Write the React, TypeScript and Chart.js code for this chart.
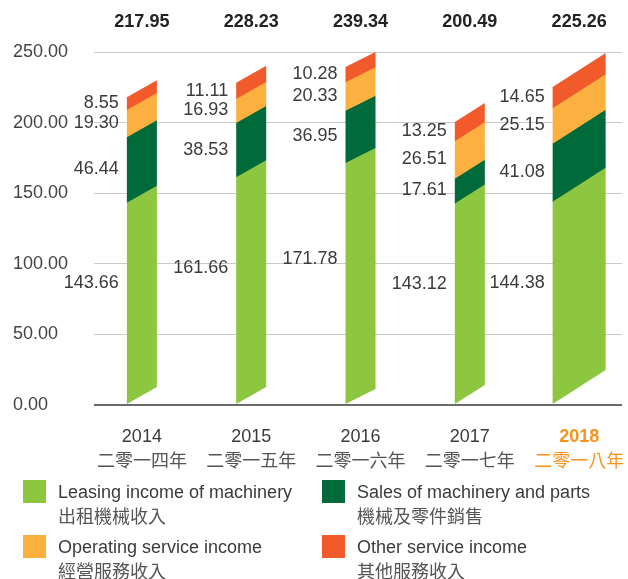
import React, { useEffect, useRef } from 'react';
import { Chart, registerables } from 'chart.js';

Chart.register(...registerables);

// ---------- data ----------
const categories = ['2014', '2015', '2016', '2017', '2018'];
const chineseLabels = ['二零一四年', '二零一五年', '二零一六年', '二零一七年', '二零一八年'];
const highlightIndex = 4;

const leasing = [143.66, 161.66, 171.78, 143.12, 144.38];
const sales = [46.44, 38.53, 36.95, 17.61, 41.08];
const operating = [19.3, 16.93, 20.33, 26.51, 25.15];
const other = [8.55, 11.11, 10.28, 13.25, 14.65];
const totals = [217.95, 228.23, 239.34, 200.49, 225.26];

const seriesNames = [
  'Leasing income of machinery',
  'Sales of machinery and parts',
  'Operating service income',
  'Other service income',
];
const seriesNamesZh = ['出租機械收入', '機械及零件銷售', '經營服務收入', '其他服務收入'];

const yMin = 0;
const yMax = 250;
const yStep = 50;

// ---------- styles ----------
const seriesColors = ['#8dc63f', '#006a3a', '#fbb040', '#f15a2b'];
const barWidths = [30, 30, 30, 30, 53];
const barSkews = [17, 17, 15, 19, 34];
const labelAnchor = [0.6, 0.5, 0.5, 0.5];
const FONT = '"Liberation Sans", "Noto Sans CJK TC", Arial, sans-serif';
const CJK_FONT = '"Noto Sans CJK TC", "Liberation Sans", sans-serif';
const TEXT = '#3b3b3b';
const ORANGE = '#f7941d';

const allSeries = [leasing, sales, operating, other];

const slantBars = {
  id: 'slantBars',
  afterDatasetsDraw(chart: any) {
    const ctx = chart.ctx;
    ctx.save();
    chart.data.datasets.forEach((_ds: any, di: number) => {
      const meta = chart.getDatasetMeta(di);
      meta.data.forEach((el: any, i: number) => {
        const { x, y, base } = el.getProps(['x', 'y', 'base'], true);
        const w = barWidths[i];
        const s = barSkews[i];
        const L = x - w / 2;
        const R = x + w / 2;
        const b = di > 0 ? base + 0.6 : base;
        ctx.beginPath();
        ctx.moveTo(L, b);
        ctx.lineTo(L, y);
        ctx.lineTo(R, y - s);
        ctx.lineTo(R, b - s);
        ctx.closePath();
        ctx.fillStyle = seriesColors[di];
        ctx.fill();
      });
    });
    ctx.restore();
  },
  afterDraw(chart: any) {
    const ctx = chart.ctx;
    const xs = chart.scales.x;
    const ys = chart.scales.y;
    const area = chart.chartArea;
    ctx.save();
    // segment labels
    ctx.font = `18px ${FONT}`;
    ctx.fillStyle = TEXT;
    ctx.textAlign = 'right';
    ctx.textBaseline = 'middle';
    categories.forEach((_c, i) => {
      const cx = xs.getPixelForValue(i);
      const left = cx - barWidths[i] / 2;
      let acc = 0;
      allSeries.forEach((ser, si) => {
        const v = ser[i];
        const py = ys.getPixelForValue(acc + v * labelAnchor[si]);
        ctx.fillText(v.toFixed(2), left - 8, py);
        acc += v;
      });
    });
    // totals
    ctx.font = `bold 18px ${FONT}`;
    ctx.fillStyle = '#222222';
    ctx.textAlign = 'center';
    totals.forEach((t, i) => {
      ctx.fillText(t.toFixed(2), xs.getPixelForValue(i), 22);
    });
    // x labels
    categories.forEach((c, i) => {
      const cx = xs.getPixelForValue(i);
      const hi = i === highlightIndex;
      ctx.font = `${hi ? 'bold ' : ''}18px ${FONT}`;
      ctx.fillStyle = hi ? ORANGE : TEXT;
      ctx.fillText(c, cx, area.bottom + 32);
      ctx.font = `18px ${CJK_FONT}`;
      ctx.fillStyle = hi ? ORANGE : '#555555';
      ctx.fillText(chineseLabels[i], cx, area.bottom + 55);
    });
    ctx.restore();
  },
};

export default function App() {
  const ref = useRef<HTMLCanvasElement | null>(null);

  useEffect(() => {
    if (!ref.current) return;
    const chart = new Chart(ref.current, {
      type: 'bar',
      data: {
        labels: categories,
        datasets: allSeries.map((ser, si) => ({
          label: seriesNames[si],
          data: ser.map((v, i) => ({ x: i, y: v })),
          backgroundColor: 'rgba(0,0,0,0)',
          borderWidth: 0,
        })),
      },
      options: {
        animation: false,
        responsive: false,
        devicePixelRatio: 1,
        layout: { padding: { left: 13, right: 6, top: 52, bottom: 0 } },
        plugins: {
          legend: { display: false },
          tooltip: { enabled: false },
          title: { display: false },
        },
        scales: {
          x: {
            type: 'linear',
            stacked: true,
            offset: false,
            min: -0.438,
            max: 4.392,
            grid: { display: false, offset: false },
            border: { display: false },
            ticks: { display: false },
            afterFit: (scale: any) => {
              scale.height = 174;
            },
          },
          y: {
            stacked: true,
            min: yMin,
            max: yMax,
            border: { display: false },
            grid: {
              drawTicks: false,
              color: (c: any) => (c.tick && c.tick.value === 0 ? '#6b6b6b' : '#c9c9c9'),
              lineWidth: (c: any) => (c.tick && c.tick.value === 0 ? 2 : 1),
            },
            ticks: {
              stepSize: yStep,
              crossAlign: 'far',
              padding: 0,
              color: '#444444',
              font: { size: 18, family: FONT },
              callback: (v: any) => Number(v).toFixed(2),
            },
            afterFit: (scale: any) => {
              scale.width = 81;
            },
          },
        },
      },
      plugins: [slantBars],
    } as any);
    return () => chart.destroy();
  }, []);

  const legendPos = [
    { left: 23, top: 480 },
    { left: 322, top: 480 },
    { left: 23, top: 535 },
    { left: 322, top: 535 },
  ];

  const lineStyle = (top: number, extra: any) => ({
    position: 'absolute' as const,
    left: 35,
    top,
    height: 24,
    lineHeight: '24px',
    whiteSpace: 'nowrap' as const,
    fontSize: 18,
    ...extra,
  });

  return (
    <div style={{ position: 'absolute', left: 0, top: 0, width: 628, height: 579, background: '#fff', overflow: 'hidden' }}>
      <canvas ref={ref} width={628} height={579} style={{ position: 'absolute', left: 0, top: 0, width: 628, height: 579 }} />
      {seriesNames.map((name, si) => (
        <div key={name} style={{ position: 'absolute', left: legendPos[si].left, top: legendPos[si].top }}>
          <div style={{ position: 'absolute', left: 0, top: 0, width: 23, height: 23, background: seriesColors[si] }} />
          <div style={lineStyle(0, { fontFamily: FONT, color: TEXT })}>{name}</div>
          <div style={lineStyle(23, { fontFamily: CJK_FONT, color: '#555555' })}>{seriesNamesZh[si]}</div>
        </div>
      ))}
    </div>
  );
}
